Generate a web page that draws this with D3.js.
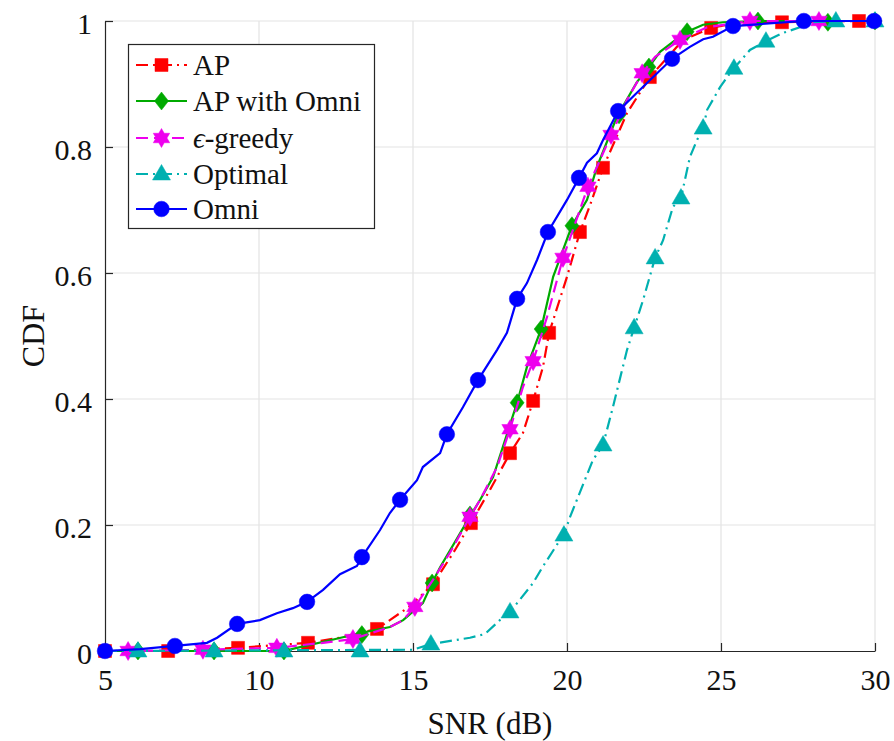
<!DOCTYPE html>
<html>
<head>
<meta charset="utf-8">
<script src="https://cdn.jsdelivr.net/npm/d3@7"></script>
<style>
  html, body { margin: 0; padding: 0; background: #fff; }
  svg { display: block; }
  svg text { font-family: 'Liberation Serif', 'Tinos', 'Times New Roman', 'DejaVu Serif', serif !important; fill: #111; }
</style>
</head>
<body>
<svg id="chart" width="894" height="741"></svg>
<script>
// ---------- data (x = SNR dB, y = CDF) ----------
const xTicks = [5, 10, 15, 20, 25, 30];
const yTicks = [0, 0.2, 0.4, 0.6, 0.8, 1];
const yTickLabels = ["0", "0.2", "0.4", "0.6", "0.8", "1"];
const seriesNames = ["AP", "AP with Omni", "ϵ-greedy", "Optimal", "Omni"];

const apLine = [[5,0],[7.05,0],[9.32,0.005],[11.59,0.013],[12.63,0.021],[13.83,0.035],[14.9,0.071],[15.65,0.106],[16.36,0.16],[16.88,0.203],[17.5,0.256],[18.15,0.314],[18.57,0.346],[18.9,0.397],[19.22,0.451],[19.42,0.505],[20.0,0.594],[20.42,0.665],[20.75,0.708],[21.17,0.767],[21.95,0.854],[22.69,0.911],[23.77,0.97],[24.68,0.989],[25.62,0.998],[26.98,0.998],[29.48,1],[30,1]];
const apMarks = [[5,0],[7.05,0],[9.32,0.005],[11.59,0.013],[13.83,0.035],[15.65,0.106],[16.88,0.203],[18.15,0.314],[18.9,0.397],[19.42,0.505],[20.42,0.665],[21.17,0.767],[22.69,0.911],[24.68,0.989],[26.98,0.998],[29.48,1]];

const apOmniLine = [[5,0],[6.07,0],[8.54,0],[10.81,0],[11.23,0.005],[12.31,0.017],[13.34,0.029],[14.25,0.038],[14.68,0.049],[15.32,0.076],[15.62,0.108],[15.88,0.133],[16.88,0.216],[17.18,0.24],[17.6,0.276],[18.38,0.394],[18.7,0.451],[19.16,0.511],[19.55,0.594],[20.16,0.675],[20.65,0.716],[20.97,0.768],[21.62,0.848],[22.27,0.903],[22.66,0.927],[23.02,0.951],[23.44,0.967],[23.9,0.983],[24.42,0.994],[25.06,0.998],[26.2,1],[30,1]];
const apOmniMarks = [[6.07,0],[8.54,0],[10.81,0],[13.34,0.026],[15.62,0.108],[16.85,0.216],[18.38,0.394],[19.16,0.511],[20.16,0.675],[21.69,0.851],[22.66,0.927],[23.9,0.983],[26.2,1],[28.47,0.998],[30,1]];

const greedyLine = [[5,0],[5.75,0],[8.18,0.002],[10.58,0.005],[12.08,0.013],[13.05,0.019],[14.25,0.038],[14.68,0.049],[15.06,0.07],[15.32,0.089],[15.65,0.113],[16.2,0.156],[16.85,0.213],[17.18,0.24],[17.73,0.292],[18.15,0.352],[18.57,0.419],[18.9,0.46],[19.35,0.53],[19.87,0.624],[20.19,0.668],[20.68,0.737],[21.07,0.779],[21.43,0.819],[21.95,0.875],[22.44,0.917],[22.86,0.943],[23.67,0.97],[24.55,0.99],[25.94,1],[28.18,1],[30,1]];
const greedyMarks = [[5.75,0],[8.18,0.002],[10.58,0.005],[13.05,0.019],[15.06,0.07],[16.85,0.213],[18.15,0.352],[18.9,0.46],[19.87,0.624],[20.68,0.737],[21.43,0.819],[22.44,0.917],[23.67,0.97],[25.94,1],[28.18,1]];

const optimalLine = [[5,0],[15.0,0.002],[15.58,0.011],[16.85,0.021],[17.34,0.027],[17.82,0.049],[18.15,0.062],[18.38,0.076],[18.9,0.108],[19.19,0.132],[19.77,0.176],[19.9,0.184],[20.1,0.213],[20.84,0.303],[21.17,0.327],[21.49,0.387],[21.95,0.478],[22.18,0.513],[22.47,0.557],[22.86,0.624],[23.12,0.652],[23.44,0.705],[23.7,0.719],[23.99,0.784],[24.22,0.811],[24.42,0.83],[24.55,0.859],[24.97,0.895],[25.29,0.917],[25.42,0.925],[25.94,0.954],[26.46,0.968],[27.01,0.981],[27.56,0.99],[27.99,0.998],[28.73,1],[30,1]];
const optimalMarks = [[6.07,0],[8.54,0],[10.81,0],[13.28,0],[15.58,0.011],[18.15,0.062],[19.9,0.184],[21.17,0.327],[22.18,0.513],[22.86,0.624],[23.7,0.719],[24.42,0.83],[25.42,0.925],[26.46,0.968],[28.73,1],[30,1]];

const omniLine = [[5,0],[6.14,0.003],[7.27,0.008],[8.31,0.013],[8.64,0.021],[9.29,0.043],[10.03,0.049],[10.58,0.06],[11.1,0.068],[11.56,0.078],[12.08,0.097],[12.63,0.122],[13.18,0.135],[13.34,0.149],[13.93,0.192],[14.25,0.219],[14.58,0.24],[15.13,0.271],[15.32,0.292],[15.88,0.314],[16.1,0.344],[16.62,0.387],[17.11,0.43],[17.73,0.478],[18.05,0.505],[18.38,0.559],[18.7,0.584],[19.03,0.621],[19.38,0.665],[20.0,0.716],[20.39,0.751],[20.65,0.775],[20.97,0.79],[21.17,0.811],[21.66,0.857],[22.27,0.886],[22.69,0.906],[23.41,0.94],[23.99,0.959],[24.42,0.971],[24.74,0.975],[25.39,0.992],[27.69,1],[29.97,1]];
const omniMarks = [[5,0],[7.27,0.008],[9.29,0.043],[11.56,0.078],[13.34,0.149],[14.58,0.24],[16.1,0.344],[17.11,0.43],[18.38,0.559],[19.38,0.665],[20.39,0.751],[21.66,0.857],[23.41,0.94],[25.39,0.992],[27.69,1],[29.97,1]];

// ---------- layout ----------
const FONT = "'Liberation Serif', 'Tinos', 'Times New Roman', 'DejaVu Serif', serif";
const L = 105, R = 875, T = 21, B = 651;
const svg = d3.select("#chart");
const x = d3.scaleLinear().domain([5, 30]).range([L, R]);
const y = d3.scaleLinear().domain([0, 1]).range([B, T]);

// grid
const grid = svg.append("g");
grid.selectAll("line.gx").data(xTicks.slice(1)).join("line")
  .attr("x1", d => x(d)).attr("x2", d => x(d)).attr("y1", T).attr("y2", B)
  .attr("stroke", "#e3e3e3").attr("stroke-width", 1.2);
grid.selectAll("line.gy").data(yTicks.slice(1)).join("line")
  .attr("x1", L).attr("x2", R).attr("y1", d => y(d)).attr("y2", d => y(d))
  .attr("stroke", "#e3e3e3").attr("stroke-width", 1.2);

// axes
const axisColor = "#262626";
const xAxis = d3.axisBottom(x).tickValues(xTicks).tickSizeInner(-8).tickSizeOuter(0).tickPadding(18).tickFormat(d3.format("d"));
const yAxis = d3.axisLeft(y).tickValues(yTicks).tickSizeInner(-8).tickSizeOuter(0).tickPadding(13).tickFormat((d, i) => yTickLabels[i]);
const gx = svg.append("g").attr("transform", `translate(0,${B})`).call(xAxis);
const gy = svg.append("g").attr("transform", `translate(${L},0)`).call(yAxis);
[gx, gy].forEach(g => {
  g.attr("font-family", FONT);
  g.select(".domain").attr("stroke", axisColor).attr("stroke-width", 1.2);
  g.selectAll(".tick line").attr("stroke", axisColor).attr("stroke-width", 1.2);
  g.selectAll(".tick text").attr("font-family", FONT).attr("font-size", 30).attr("fill", "#222");
});
gy.selectAll(".tick text").attr("dy", "0.4em");

svg.append("text").attr("x", (L + R) / 2).attr("y", 734).attr("text-anchor", "middle")
  .attr("font-family", FONT).attr("font-size", 31).text("SNR (dB)");
svg.append("text").attr("transform", `translate(44,${(T + B) / 2}) rotate(-90)`).attr("text-anchor", "middle")
  .attr("font-family", FONT).attr("font-size", 32).text("CDF");

// markers
function hexagram(r) {
  const pts = [];
  const ri = r / Math.sqrt(3);
  for (let k = 0; k < 12; k++) {
    const a = -Math.PI / 2 + k * Math.PI / 6;
    const rr = k % 2 === 0 ? r : ri;
    pts.push([rr * Math.cos(a), rr * Math.sin(a)]);
  }
  return "M" + pts.map(p => p.join(",")).join("L") + "Z";
}
const shapes = {
  square: "M-6.5,-6.5L6.5,-6.5L6.5,6.5L-6.5,6.5Z",
  diamond: "M0,-9L7,0L0,9L-7,0Z",
  hexagram: hexagram(9.5),
  triangle: "M0,-9.5L9,6L-9,6Z",
  circle: d3.symbol().type(d3.symbolCircle).size(Math.PI * 7.8 * 7.8)()
};

const series = [
  { name: seriesNames[0], line: apLine, marks: apMarks, color: "#ff0000", dash: "12,5,2,5", shape: "square" },
  { name: seriesNames[1], line: apOmniLine, marks: apOmniMarks, color: "#00aa00", dash: null, shape: "diamond" },
  { name: seriesNames[2], line: greedyLine, marks: greedyMarks, color: "#ee00ee", dash: "12,6", shape: "hexagram" },
  { name: seriesNames[3], line: optimalLine, marks: optimalMarks, color: "#00b0b0", dash: "12,5,2,5", shape: "triangle" },
  { name: seriesNames[4], line: omniLine, marks: omniMarks, color: "#0000ff", dash: null, shape: "circle" }
];

const lineGen = d3.line().x(d => x(d[0])).y(d => y(d[1]));
const plot = svg.append("g");
series.forEach(s => {
  const g = plot.append("g");
  g.append("path").attr("d", lineGen(s.line)).attr("fill", "none")
    .attr("stroke", s.color).attr("stroke-width", 2.2)
    .attr("stroke-dasharray", s.dash);
  g.selectAll("path.m").data(s.marks).join("path")
    .attr("class", "m")
    .attr("transform", d => `translate(${x(d[0])},${y(d[1])})`)
    .attr("d", shapes[s.shape]).attr("fill", s.color).attr("stroke", s.color).attr("stroke-width", 0.5);
});

// legend
const lg = svg.append("g");
lg.append("rect").attr("x", 128.5).attr("y", 44.5).attr("width", 246).attr("height", 184)
  .attr("fill", "#fff").attr("stroke", axisColor).attr("stroke-width", 1.2);
const rowY = [65, 101, 138, 174, 209];
series.forEach((s, i) => {
  const yy = rowY[i];
  lg.append("line").attr("x1", 136).attr("x2", 187).attr("y1", yy).attr("y2", yy)
    .attr("stroke", s.color).attr("stroke-width", 2.2).attr("stroke-dasharray", s.dash);
  lg.append("path").attr("transform", `translate(161.5,${yy})`).attr("d", shapes[s.shape])
    .attr("fill", s.color).attr("stroke", s.color).attr("stroke-width", 0.5);
  const t = lg.append("text").attr("x", 193).attr("y", yy + 10).attr("font-family", FONT).attr("font-size", 29);
  if (s.name.startsWith("ϵ")) {
    t.append("tspan").attr("font-style", "italic").text("ϵ");
    t.append("tspan").text(s.name.slice(1));
  } else {
    t.text(s.name);
  }
});
</script>
</body>
</html>
